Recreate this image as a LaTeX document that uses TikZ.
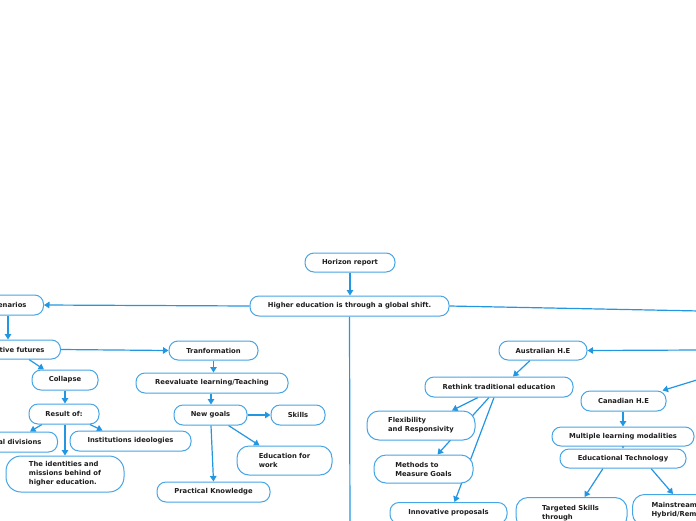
\documentclass[tikz,border=0pt]{standalone}
\usepackage{fontspec}
\setmainfont{DejaVu Sans}
\usetikzlibrary{arrows.meta,calc}
\definecolor{linec}{RGB}{35,150,225}
\definecolor{boxc}{RGB}{70,165,230}
\definecolor{txtc}{RGB}{30,30,30}
\pgfdeclarelayer{bg}
\pgfsetlayers{bg,main}
\begin{document}
\begin{tikzpicture}[x=1pt,y=-1pt,
  box/.style={draw=boxc,line width=1pt,fill=white,rounded corners=9pt,
    font=\fontsize{6.8}{9}\selectfont\bfseries,text=txtc,inner sep=0pt,align=center},
  tallbox/.style={box,rounded corners=12pt,align=left},
  conn/.style={draw=linec,line width=1.2pt},
  arr/.style={conn,-{Triangle[length=5.5pt,width=6.5pt]}}]
\useasboundingbox (0,0) rectangle (696,520);
\clip (0,0) rectangle (696,520);
% nodes
\node[box,minimum width=90pt,minimum height=19pt] (hr) at (350,262.5) {Horizon report};
\node[box,minimum width=199pt,minimum height=20pt] (gs) at (349.5,306) {Higher education is through a global shift.};
\node[box,anchor=east,inner xsep=17pt,minimum height=20pt] (scen) at (44,305) {Scenarios};
\node[box,anchor=east,inner xsep=16pt,minimum height=19pt] (alt) at (61,349.5) {Alternative futures};
\node[box,minimum width=89pt,minimum height=19pt] (trans) at (213.5,350.5) {Tranformation};
\node[box,minimum width=152pt,minimum height=20pt] (reeval) at (212,383) {Reevaluate learning/Teaching};
\node[box,minimum width=73pt,minimum height=20pt] (newg) at (210.5,415) {New goals};
\node[box,minimum width=54pt,minimum height=20pt] (skills) at (298,415) {Skills};
\node[tallbox,minimum width=95pt,minimum height=29pt] (edu) at (284.5,460.5) {Education for\\work};
\node[box,minimum width=113pt,minimum height=20pt] (prac) at (213.5,492) {Practical Knowledge};
\node[box,minimum width=66pt,minimum height=20pt] (coll) at (65,380) {Collapse};
\node[box,minimum width=70pt,minimum height=20pt] (res) at (64,414) {Result of:};
\node[box,anchor=east,inner xsep=16pt,minimum height=20pt] (div) at (58,442) {Cultural divisions};
\node[box,minimum width=121pt,minimum height=20pt] (inst) at (130.5,441) {Institutions ideologies};
\node[tallbox,rounded corners=15pt,minimum width=118pt,minimum height=36pt] (ident) at (65,474) {The identities and\\missions behind of\\higher education.};
\node[box,minimum width=88pt,minimum height=19pt] (aus) at (543,350.5) {Australian H.E};
\node[box,minimum width=148pt,minimum height=20pt] (reth) at (499,387) {Rethink traditional education};
\node[box,minimum width=126pt,minimum height=19pt] (edt) at (623,458.5) {Educational Technology};
\node[box,minimum width=142pt,minimum height=19pt] (multi) at (623,436.5) {Multiple learning modalities};
\node[box,minimum width=85pt,minimum height=20pt] (can) at (623.5,401) {Canadian H.E};
\node[box,anchor=north,minimum width=117pt,minimum height=21pt] (innov) at (448.5,502) {Innovative proposals};
\node[tallbox,minimum width=99pt,minimum height=28pt] (meth) at (423.5,469) {Methods to\\Measure Goals};
\node[tallbox,minimum width=108pt,minimum height=29pt] (flex) at (421,425.5) {Flexibility\\and Responsivity};
\node[tallbox,anchor=north,minimum width=111pt,minimum height=31pt] (targ) at (571.5,497) {Targeted Skills\\through\hspace*{28pt}};
\node[tallbox,anchor=north west,inner xsep=19pt,minimum height=31pt] (main) at (632,494) {Mainstream\\Hybrid/Remote};
% off-picture ends
\coordinate (r1) at (700,311);
\coordinate (r2) at (700,350);
\coordinate (r3) at (700,379);
\coordinate (d1) at (350,530);
% connectors
\begin{pgfonlayer}{bg}
\draw[arr] (hr.south) -- (hr.south |- gs.north);
\draw[arr] (gs.west) -- (scen.east);
\draw[arr] ([xshift=-36pt]scen.south east) -- ([xshift=-53pt]alt.north east);
\draw[arr] (alt.east) -- (trans.west);
\draw[arr] ([xshift=-32pt]alt.south east) -- ([xshift=-21pt]coll.north);
\draw[arr] (coll.south) -- (coll.south |- res.north);
\draw[arr] ([xshift=-22pt]res.south) -- ([xshift=-28pt]div.north east);
\draw[arr] ([xshift=26pt]res.south) -- ([xshift=33pt]inst.north west);
\draw[arr] ([xshift=1pt]res.south) -- (ident.north);
\draw[arr] (trans.south) -- (trans.south |- reeval.north);
\draw[arr] ([xshift=-1pt]reeval.south) -- ([xshift=0.5pt]newg.north);
\draw[arr] (newg.east) -- (skills.west);
\draw[arr] ([xshift=18pt]newg.south) -- ([xshift=-25pt]edu.north);
\draw[arr] ([xshift=0.5pt]newg.south) -- (prac.north);
\draw[conn] (gs.east) -- (r1);
\draw[conn] (gs.south) -- (d1);
\draw[arr] (r2) -- (aus.east);
\draw[arr] (r3) -- ([xshift=-4pt]can.north east);
\draw[arr] ([xshift=-13pt]aus.south) -- ([xshift=14pt]reth.north);
\draw[arr] ([xshift=-21pt]reth.south) -- ([xshift=31pt]flex.north);
\draw[arr] ([xshift=-10pt]reth.south) -- ([xshift=14pt]meth.north);
\draw[arr] ([xshift=-5pt]reth.south) -- ([xshift=6pt]innov.north);
\draw[arr] ([xshift=-0.5pt]can.south) -- (multi.north);
\draw[arr] (multi.south) -- (edt.north);
\draw[arr] ([xshift=-20pt]edt.south) -- ([xshift=13pt]targ.north);
\draw[arr] ([xshift=28pt]edt.south) -- ([xshift=41pt]main.north west);
\end{pgfonlayer}
\end{tikzpicture}
\end{document}
